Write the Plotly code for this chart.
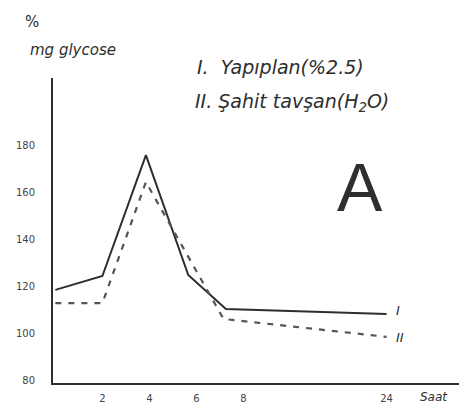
import plotly.graph_objects as go

# ---- data ----
hours_I = [0, 2, 3.85, 5.65, 7.25, 24]
glucose_I = [118.6, 124.5, 175.7, 124.9, 110.5, 108.4]

hours_II = [0, 2, 3.85, 7.15, 24]
glucose_II = [113, 113, 164.3, 106.3, 98.7]

x_tick_hours = [2, 4, 6, 8, 24]
x_tick_text = ["2", "4", "6", "8", "24"]
y_tick_vals = [80, 100, 120, 140, 160, 180]
y_tick_text = ["80", "100", "120", "140", "160", "180"]


def axis_pos(h):
    # broken time axis: the 8-24 h stretch is compressed
    return h if h <= 8 else 8 + (h - 8) * 0.38


INK = "#2e2e2e"
FONT = "DejaVu Sans"

# the page body has an 8px margin, so the figure is drawn 8px in from the corner
OFF = 8
W, H = 467 - OFF, 408 - OFF
L, R, T, B = 53 - OFF, 0, 78 - OFF, 25
PW, PH = W - L - R, H - T - B

fig = go.Figure()
fig.add_trace(go.Scatter(
    x=[axis_pos(h) for h in hours_I], y=glucose_I, mode="lines",
    line=dict(color=INK, width=2), name="I", showlegend=False))
fig.add_trace(go.Scatter(
    x=[axis_pos(h) for h in hours_II], y=glucose_II, mode="lines",
    line=dict(color="#555555", width=2.2, dash="6px,7px"), name="II",
    showlegend=False))

fig.update_layout(
    width=W, height=H,
    margin=dict(l=L, r=R, t=T, b=B, autoexpand=False),
    paper_bgcolor="white", plot_bgcolor="white",
    font=dict(family=FONT, color=INK),
    xaxis=dict(range=[-0.1, 17.5], showgrid=False, zeroline=False,
               showline=True, linecolor=INK, linewidth=2,
               tickvals=[axis_pos(h) for h in x_tick_hours], ticktext=x_tick_text,
               ticks="", ticklabelstandoff=5,
               tickfont=dict(size=10, color="#444")),
    yaxis=dict(range=[79.15, 208.4], showgrid=False, zeroline=False,
               showline=True, linecolor=INK, linewidth=2,
               tickvals=y_tick_vals, ticktext=y_tick_text,
               ticks="", ticklabelstandoff=14,
               tickfont=dict(size=10, color="#444")),
)

# (screen pixel x, screen pixel y, text, font size, font family)
notes = [
    (32, 22, "%", 15, FONT),
    (73, 50, "<i>mg glycose</i>", 15, FONT),
    (280, 67, "<i>I.  Yapıplan(%2.5)</i>", 19, FONT),
    (292, 102, "<i>II. Şahit tavşan(H<sub>2</sub>O)</i>", 19, FONT),
    (360, 187, "A", 68, "Liberation Sans"),
    (398, 310, "<i>I</i>", 13, FONT),
    (400, 337, "<i>II</i>", 13, FONT),
    (434, 397, "<i>Saat</i>", 12, FONT),
]
for px, py, txt, size, fam in notes:
    fig.add_annotation(x=(px - OFF - L) / PW, y=1 - (py - OFF - T) / PH,
                       xref="paper", yref="paper",
                       text=txt, showarrow=False,
                       font=dict(size=size, color=INK, family=fam),
                       xanchor="center", yanchor="middle")

fig.write_html("out.html")
